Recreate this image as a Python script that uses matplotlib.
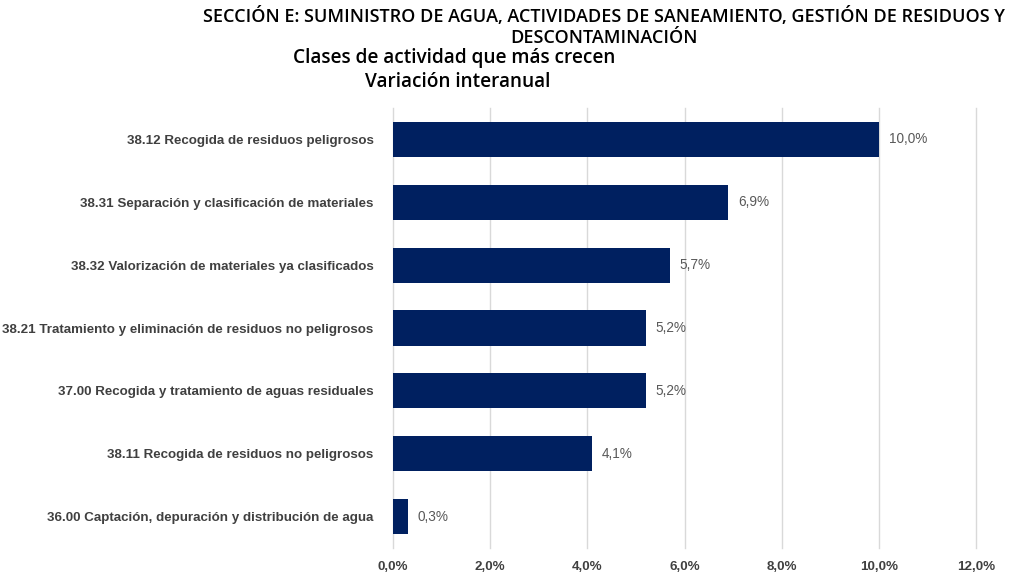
import matplotlib.pyplot as plt
from matplotlib.ticker import FuncFormatter

categorias = [
    "38.12 Recogida de residuos peligrosos",
    "38.31 Separación y clasificación de materiales",
    "38.32 Valorización de materiales ya clasificados",
    "38.21 Tratamiento y eliminación de residuos no peligrosos",
    "37.00 Recogida y tratamiento de aguas residuales",
    "38.11 Recogida de residuos no peligrosos",
    "36.00 Captación, depuración y distribución de agua",
]
variacion = [10.0, 6.9, 5.7, 5.2, 5.2, 4.1, 0.3]
ticks_x = [0, 2, 4, 6, 8, 10, 12]

lab_font = 'Liberation Sans'
title_font = 'Open Sans'

fig = plt.figure(figsize=(10.11, 5.76), dpi=100)
ax = fig.add_axes([393 / 1011, 1 - 548 / 576, (976 - 393) / 1011, (548 - 108) / 576])

y = list(range(len(categorias)))
ax.barh(y, variacion, height=0.56, color='#002060', zorder=3)
ax.set_ylim(len(categorias) - 0.5, -0.5)
ax.set_xlim(0, 12)
ax.set_xticks(ticks_x)
ax.xaxis.set_major_formatter(FuncFormatter(lambda v, p: f"{v:.1f}%".replace('.', ',')))
ax.set_yticks(y)
ax.set_yticklabels(categorias)

for lab in ax.get_yticklabels():
    lab.set_family(lab_font)
    lab.set_fontweight('bold')
    lab.set_fontsize(9.6)
    lab.set_color('#404040')
for lab in ax.get_xticklabels():
    lab.set_family(lab_font)
    lab.set_fontweight('bold')
    lab.set_fontsize(9.6)
    lab.set_color('#404040')

ax.tick_params(axis='both', length=0)
ax.tick_params(axis='y', pad=14)
ax.tick_params(axis='x', pad=9)
ax.grid(axis='x', color='#d9d9d9', linewidth=1, zorder=0)
for gl in ax.get_xgridlines():
    gl.set_clip_on(False)
for s in ax.spines.values():
    s.set_visible(False)

for yi, v in zip(y, variacion):
    ax.text(v + 0.2, yi, f"{v:.1f}%".replace('.', ','), va='center', ha='left',
            fontsize=9.8, color='#595959', family=lab_font)

fig.text(604 / 1011, 1 - 17 / 576, "SECCIÓN E: SUMINISTRO DE AGUA, ACTIVIDADES DE SANEAMIENTO, GESTIÓN DE RESIDUOS Y",
         ha='center', va='center', fontsize=13, family=title_font, fontweight='semibold', color='black')
fig.text(604 / 1011, 1 - 38 / 576, "DESCONTAMINACIÓN",
         ha='center', va='center', fontsize=13, family=title_font, fontweight='semibold', color='black')
fig.text(454 / 1011, 1 - 58 / 576, "Clases de actividad que más crecen",
         ha='center', va='center', fontsize=13.7, family=title_font, fontweight='semibold', color='black')
fig.text(458 / 1011, 1 - 82 / 576, "Variación interanual",
         ha='center', va='center', fontsize=13.7, family=title_font, fontweight='semibold', color='black')

fig.savefig('out.png', dpi=100)
